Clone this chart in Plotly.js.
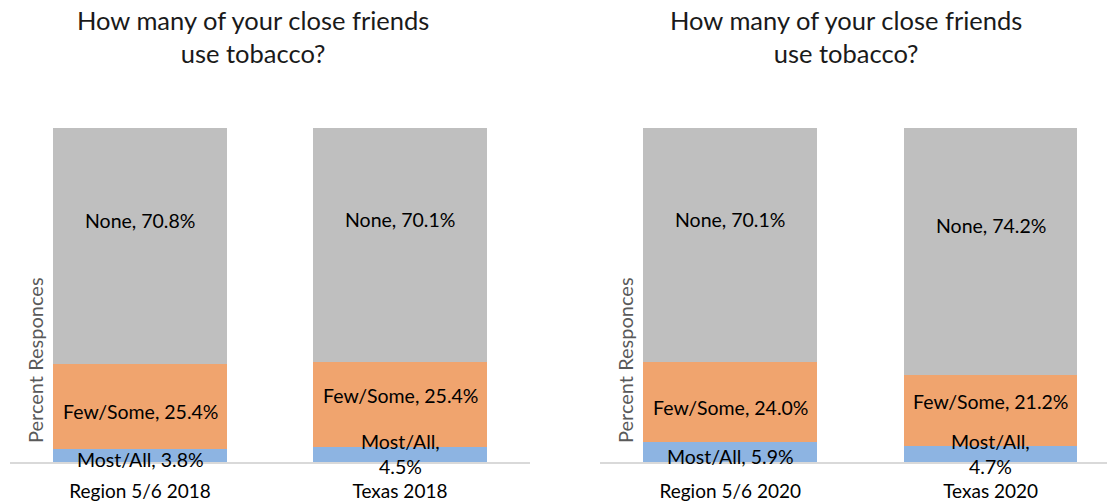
<!DOCTYPE html>
<html><head><meta charset="utf-8">
<script src="https://cdn.plot.ly/plotly-3.0.1.min.js"></script>
<style>html,body{margin:0;padding:0;background:#fff}#chart{width:1107px;height:504px}</style>
</head><body><div id="chart"></div>
<script>
// ---- data ----
const panelTitle = "How many of your close friends<br>use tobacco?";
const yTitle = "Percent Responces";
const seriesNames = ["Most/All", "Few/Some", "None"];
const cats2018 = ["Region 5/6 2018", "Texas 2018"];
const cats2020 = ["Region 5/6 2020", "Texas 2020"];
const mostAll2018 = [3.8, 4.5];
const fewSome2018 = [25.4, 25.4];
const none2018 = [70.8, 70.1];
const mostAll2020 = [5.9, 4.7];
const fewSome2020 = [24.0, 21.2];
const none2020 = [70.1, 74.2];

// ---- style ----
const colors = ["#8DB4E2", "#F0A46E", "#BFBFBF"];
const FONT = "Lato, 'Open Sans', sans-serif";
const W = 1107, H = 504, T = 128, B = 42;
const plotH = H - T - B;
const wrapMostAll = [false, true]; // second bar in each panel wraps its Most/All label

const panels = [
  {cats: cats2018, vals: [mostAll2018, fewSome2018, none2018], xa: "x", ya: "y"},
  {cats: cats2020, vals: [mostAll2020, fewSome2020, none2020], xa: "x2", ya: "y2"}
];

const traces = [];
const annotations = [];
panels.forEach((p, pi) => {
  p.vals.forEach((v, si) => {
    traces.push({
      type: "bar", x: p.cats, y: v, name: seriesNames[si], xaxis: p.xa, yaxis: p.ya,
      marker: {color: colors[si], line: {width: 0}}, width: 0.667,
      hoverinfo: "x+y+name", showlegend: false
    });
  });
  p.cats.forEach((c, ci) => {
    let base = 0;
    p.vals.forEach((v, si) => {
      const val = v[ci];
      const mid = base + val / 2;
      base += val;
      let txt = seriesNames[si] + ", " + val.toFixed(1) + "%";
      let ysh = 0;
      if (si === 0) {
        if (wrapMostAll[ci]) { txt = seriesNames[si] + ",<br>" + val.toFixed(1) + "%"; ysh = 0; }
        else ysh = -4;
      } else if (si === 1) {
        ysh = wrapMostAll[ci] ? 9 : -5;
      } else {
        ysh = 26;
      }
      annotations.push({
        xref: p.xa, yref: p.ya, x: c, y: mid, text: txt, showarrow: false,
        yshift: ysh, font: {family: FONT, size: 19.5, color: "#000"}, align: "center"
      });
    });
  });
});

const py = px => (H - B - px) / plotH;
// panel titles
[253, 846].forEach(cx => {
  annotations.push({
    xref: "paper", yref: "paper", x: cx / W, y: py(36), xanchor: "center", yanchor: "middle",
    text: panelTitle, showarrow: false, align: "center",
    font: {family: FONT, size: 25.5, color: "#1a1a1a"}
  });
});
// y axis titles
[35, 625].forEach(cx => {
  annotations.push({
    xref: "paper", yref: "paper", x: cx / W, y: py(360), xanchor: "center", yanchor: "middle",
    text: yTitle, textangle: -90, showarrow: false,
    font: {family: FONT, size: 20, color: "#595959"}
  });
});

const xCommon = {
  type: "category", showline: true, linecolor: "#D9D9D9", linewidth: 1.5,
  showgrid: false, zeroline: false, ticks: "", ticklabelstandoff: 11,
  tickfont: {family: FONT, size: 19, color: "#000"}
};
const yCommon = {range: [0, 100], showgrid: false, zeroline: false, showticklabels: false, showline: false, fixedrange: true};

const layout = {
  width: W, height: H, barmode: "stack",
  margin: {l: 0, r: 0, t: T, b: B},
  paper_bgcolor: "#fff", plot_bgcolor: "rgba(0,0,0,0)",
  xaxis: Object.assign({}, xCommon, {domain: [10 / W, 530 / W], range: [-0.5, 1.5], anchor: "y"}),
  xaxis2: Object.assign({}, xCommon, {domain: [600 / W, 1], range: [-0.5, 1.447], anchor: "y2"}),
  yaxis: Object.assign({}, yCommon, {anchor: "x"}),
  yaxis2: Object.assign({}, yCommon, {anchor: "x2"}),
  annotations: annotations,
  showlegend: false
};

Plotly.newPlot("chart", traces, layout, {displayModeBar: false, responsive: false});
</script>
</body></html>
